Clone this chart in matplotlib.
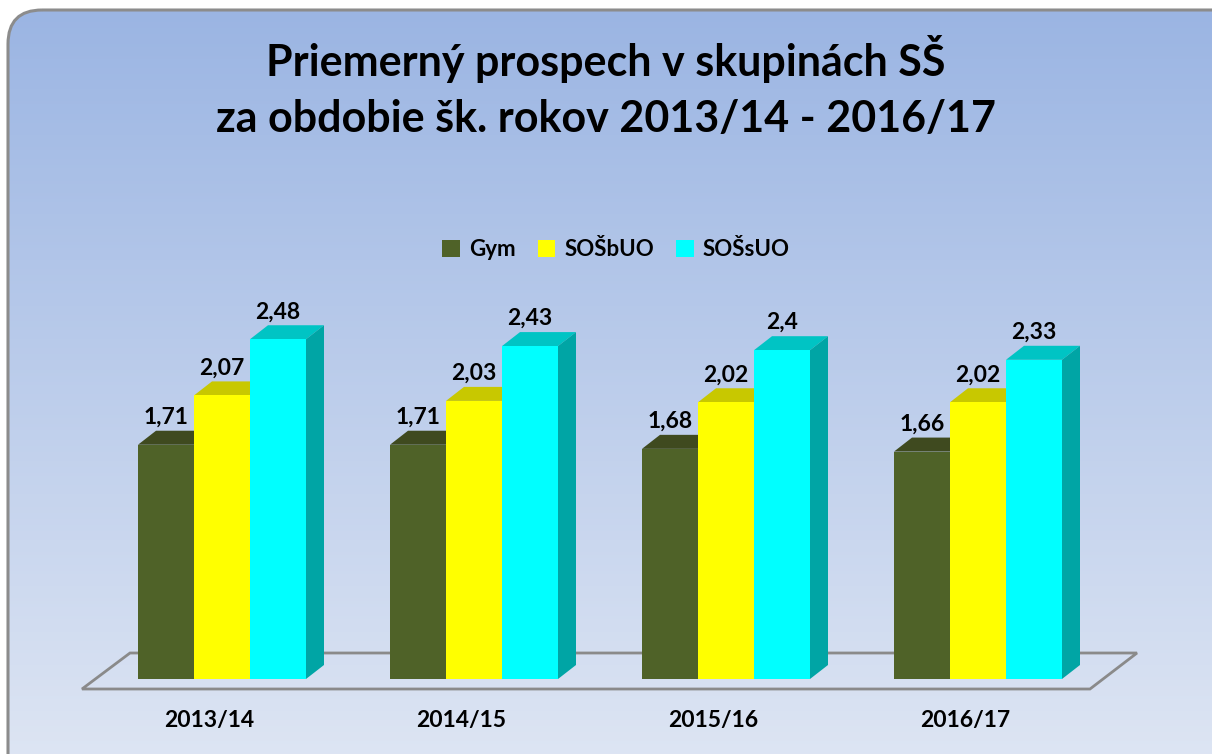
import numpy as np
import matplotlib
matplotlib.use("Agg")
import matplotlib.pyplot as plt
from matplotlib.patches import FancyBboxPatch, Polygon, Rectangle

# ---- data ----
categories = ["2013/14", "2014/15", "2015/16", "2016/17"]
series_names = ["Gym", "SOŠbUO", "SOŠsUO"]
gym = [1.71, 1.71, 1.68, 1.66]
sosbuo = [2.07, 2.03, 2.02, 2.02]
sossuo = [2.48, 2.43, 2.40, 2.33]
value_labels = [["1,71", "1,71", "1,68", "1,66"],
                ["2,07", "2,03", "2,02", "2,02"],
                ["2,48", "2,43", "2,4", "2,33"]]
title_lines = ["Priemerný prospech v skupinách SŠ", "za obdobie šk. rokov 2013/14 - 2016/17"]

# ---- styles ----
front_colors = ["#4F6228", "#FFFF00", "#00FFFF"]
top_colors = ["#3F4A1F", "#C8C800", "#00C4C4"]
side_colors = ["#3A451C", "#B0B000", "#00A5A5"]
FONT = "Lato"

W, H = 1212, 754
fig = plt.figure(figsize=(W / 100, H / 100), dpi=100)
fig.patch.set_facecolor("white")

# background with rounded frame
bg = fig.add_axes([0, 0, 1, 1])
bg.set_xlim(0, W)
bg.set_ylim(H, 0)
bg.axis("off")
grad = np.linspace(0, 1, 256)[:, None]
c_top = np.array([155, 181, 227]) / 255
c_bot = np.array([224, 231, 244]) / 255
img = c_top[None, None, :] * (1 - grad[..., None]) + c_bot[None, None, :] * grad[..., None]
img = np.repeat(img, 2, axis=1)
frame = FancyBboxPatch((8, 10), 1240, 780, boxstyle="round,pad=0,rounding_size=34",
                       facecolor="none", edgecolor="#8C8C8C", linewidth=2.2)
bg.add_patch(frame)
im = bg.imshow(img, extent=(8, 1248, 790, 10), aspect="auto", zorder=0)
im.set_clip_path(frame)

# plot axes: pixel geometry
px_per_unit = 137.0
ax_bottom_px = 679
ax_left_px = 96
group_px = 252
ymax = 3.0
ax_h_px = ymax * px_per_unit
ax = fig.add_axes([ax_left_px / W, (H - ax_bottom_px) / H, 4 * group_px / W, ax_h_px / H])
ax.set_xlim(-0.5, 3.5)
ax.set_ylim(0, ymax)
ax.axis("off")

dx = 18 / group_px
dy = 14 / px_per_unit
bw = 56 / group_px

# floor
def to_data(px, py):
    return ((px - ax_left_px) / group_px - 0.5, (ax_bottom_px - py) / px_per_unit)

floor_pts = [to_data(82, 689), to_data(1090, 689), to_data(1137, 653), to_data(130, 653)]
ax.add_patch(Polygon(floor_pts, closed=True, facecolor="none", edgecolor="#8A8A8A",
                     linewidth=2, clip_on=False, zorder=1))

x = np.arange(len(categories))
all_series = [gym, sosbuo, sossuo]
for s, vals in enumerate(all_series):
    xs = x + (s - 1) * bw
    ax.bar(xs, vals, width=bw, color=front_colors[s], edgecolor="none", zorder=3, label=series_names[s])
    for i, v in enumerate(vals):
        l = xs[i] - bw / 2
        r = xs[i] + bw / 2
        ax.add_patch(Polygon([(l, v), (r, v), (r + dx, v + dy), (l + dx, v + dy)],
                             facecolor=top_colors[s], edgecolor="none", zorder=2, clip_on=False))
        ax.add_patch(Polygon([(r, 0), (r + dx, dy), (r + dx, v + dy), (r, v)],
                             facecolor=side_colors[s], edgecolor="none", zorder=2, clip_on=False))
        ax.text(xs[i], v + dy + 7 / px_per_unit, value_labels[s][i],
                ha="center", va="baseline",
                fontsize=16.5, fontweight="bold", family=FONT, color="black", clip_on=False)

for i, c in enumerate(categories):
    ax.text(x[i] - 13 / group_px, -42 / px_per_unit, c, ha="center", va="center",
            fontsize=16.5, fontweight="bold", family=FONT)

for k, (line, base) in enumerate(zip(title_lines, [76, 132])):
    fig.text(0.5, 1 - base / H, line, ha="center", va="baseline", fontsize=31,
             fontweight="bold", family=FONT)

# legend
handles = [Rectangle((0, 0), 1, 1, facecolor=c, edgecolor="none") for c in front_colors]
leg = fig.legend(handles, series_names, loc="center", bbox_to_anchor=(616 / W, 1 - 250 / H),
                 ncol=3, frameon=False, prop={"family": FONT, "weight": "bold", "size": 16},
                 handlelength=0.8, handleheight=0.8, handletextpad=0.4, columnspacing=1.0)

fig.savefig("out.png", dpi=100)
